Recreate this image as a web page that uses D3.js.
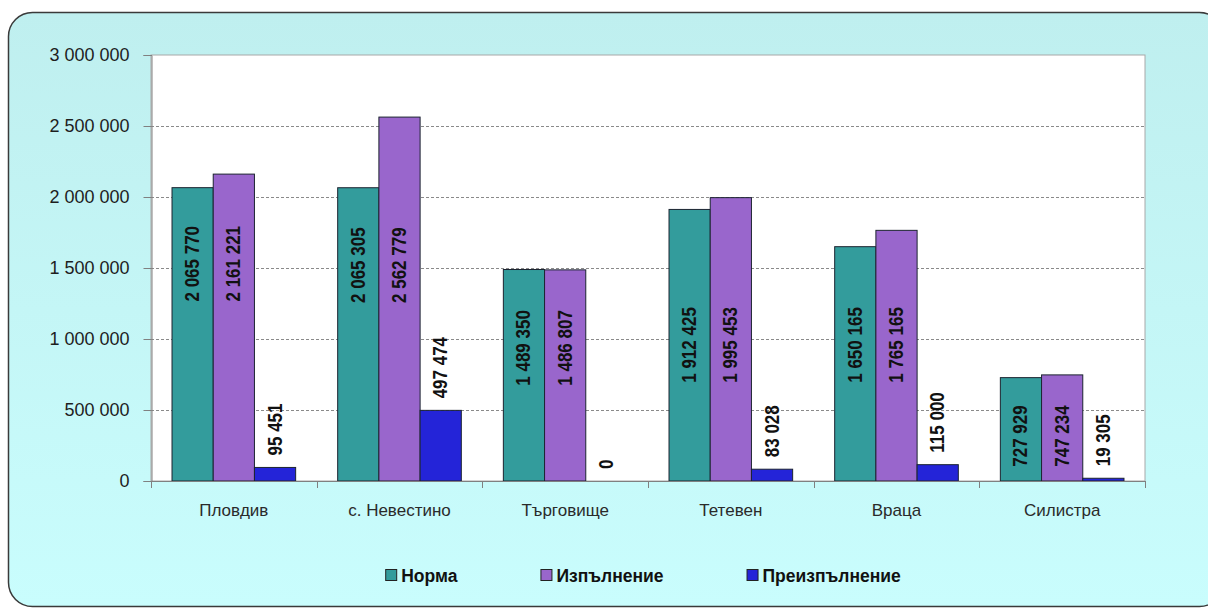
<!DOCTYPE html>
<html><head><meta charset="utf-8">
<script src="https://cdn.jsdelivr.net/npm/d3@7/dist/d3.min.js"></script>
<style>
html,body{margin:0;padding:0;background:#fff;}
svg{display:block;font-family:"Liberation Sans",Arial,sans-serif;}
</style></head>
<body>
<svg id="chart" width="1208" height="610"></svg>
<script>
const categories = ["Пловдив","с. Невестино","Търговище","Тетевен","Враца","Силистра"];
const seriesNames = ["Норма","Изпълнение","Преизпълнение"];
const norma = [2065770,2065305,1489350,1912425,1650165,727929];
const izpalnenie = [2161221,2562779,1486807,1995453,1765165,747234];
const preizpalnenie = [95451,497474,0,83028,115000,19305];
// level (value-axis units) at which the inside labels of each group are centred
const labelMid = [1530000,1520000,937000,958000,958000,317000];
const yTicks = [0,500000,1000000,1500000,2000000,2500000,3000000];
const colors = ["#339C9C","#9966CC","#2424D8"];

const series = [norma, izpalnenie, preizpalnenie];
const fmt = v => d3.format(",")(v).replace(/,/g," ");

const svg = d3.select("#chart");
const defs = svg.append("defs");
const grad = defs.append("linearGradient").attr("id","bg").attr("x1",0).attr("y1",0).attr("x2",0).attr("y2",1);
grad.append("stop").attr("offset","0%").attr("stop-color","#BFEFEF");
grad.append("stop").attr("offset","100%").attr("stop-color","#C9FDFD");

svg.append("rect").attr("x",8.5).attr("y",12.5).attr("width",1215).attr("height",594)
  .attr("rx",24).attr("ry",24).attr("fill","url(#bg)").attr("stroke","#3a3a3a").attr("stroke-width",1.5);

const m = {left:151, right:1145, top:55, bottom:481};
const x0 = d3.scaleBand().domain(categories).range([m.left,m.right]).paddingInner(0).paddingOuter(0);
const x1 = d3.scaleBand().domain(seriesNames).range([0,x0.bandwidth()]).paddingInner(0).paddingOuter(0.51);
const y = d3.scaleLinear().domain([0,3000000]).range([m.bottom,m.top]);

// plot area
svg.append("rect").attr("x",m.left).attr("y",m.top).attr("width",m.right-m.left).attr("height",m.bottom-m.top)
  .attr("fill","#fff").attr("stroke","#a8a8a8").attr("stroke-width",1);

// gridlines
svg.append("g").selectAll("line").data(yTicks.filter(t=>t>0 && t<3000000)).join("line")
  .attr("x1",m.left).attr("x2",m.right).attr("y1",d=>Math.round(y(d))+0.5).attr("y2",d=>Math.round(y(d))+0.5)
  .attr("stroke","#8a8a8a").attr("stroke-dasharray","3,2").attr("stroke-width",1);

// y axis
const yAxis = d3.axisLeft(y).tickValues(yTicks).tickFormat(fmt).tickSize(8).tickPadding(14);
const gy = svg.append("g").attr("transform",`translate(${m.left+0.5},0)`).call(yAxis);
gy.select(".domain").attr("stroke","#808080");
gy.selectAll(".tick line").attr("stroke","#808080");
gy.selectAll(".tick text").attr("font-size",18).attr("fill","#1e1e1e").attr("font-family","Liberation Sans, Arial, sans-serif");

// bars
const groups = svg.append("g").selectAll("g").data(categories).join("g")
  .attr("transform",d=>`translate(${x0(d)},0)`);
groups.each(function(cat,ci){
  const g = d3.select(this);
  seriesNames.forEach((s,si)=>{
    const v = series[si][ci];
    if (v>0) {
      g.append("rect").attr("x",x1(s)).attr("width",x1.bandwidth())
        .attr("y",y(v)).attr("height",y(0)-y(v))
        .attr("fill",colors[si]).attr("stroke","#1c2430").attr("stroke-width",1);
    }
  });
});

// x axis
svg.append("line").attr("x1",m.left).attr("x2",m.right).attr("y1",m.bottom+0.5).attr("y2",m.bottom+0.5).attr("stroke","#808080");
const bounds = categories.map(c=>x0(c)).concat([m.right]);
svg.append("g").selectAll("line").data(bounds).join("line")
  .attr("x1",d=>Math.round(d)+0.5).attr("x2",d=>Math.round(d)+0.5).attr("y1",m.bottom).attr("y2",m.bottom+7).attr("stroke","#808080");
svg.append("g").selectAll("text").data(categories).join("text")
  .attr("x",d=>x0(d)+x0.bandwidth()/2).attr("y",516).attr("text-anchor","middle")
  .attr("font-size",17).attr("fill","#2a2a2a").text(d=>d);

// labels
const lab = svg.append("g").attr("font-weight","bold").attr("font-size",17).attr("fill","#111");
categories.forEach((cat,ci)=>{
  [0,1].forEach(si=>{
    const cx = x0(cat)+x1(seriesNames[si])+x1.bandwidth()/2;
    const cy = y(labelMid[ci]);
    lab.append("text").attr("transform",`translate(${cx+6.5},${cy}) rotate(-90) scale(1,1.2)`)
      .attr("text-anchor","middle").text(fmt(series[si][ci]));
  });
  const v = preizpalnenie[ci];
  const cx = x0(cat)+x1(seriesNames[2])+x1.bandwidth()/2;
  lab.append("text").attr("transform",`translate(${cx+6.5},${y(v)-12}) rotate(-90) scale(1,1.2)`)
    .attr("text-anchor","start").text(fmt(v));
});

// legend
const leg = svg.append("g");
let lx = 0;
seriesNames.forEach((s,i)=>{
  const it = leg.append("g").attr("transform",`translate(${lx},0)`);
  it.append("rect").attr("x",0.5).attr("y",-5.5).attr("width",11).attr("height",11)
    .attr("fill",colors[i]).attr("stroke","#222").attr("stroke-width",1);
  const t = it.append("text").attr("x",16).attr("y",6.5).attr("font-size",17.5).attr("font-weight","bold")
    .attr("fill","#111").text(s);
  const w = t.node().getComputedTextLength();
  lx += 16 + w + 83;
});
const totalW = lx - 83;
leg.attr("transform",`translate(${643 - totalW/2},575)`);
</script>
</body></html>
